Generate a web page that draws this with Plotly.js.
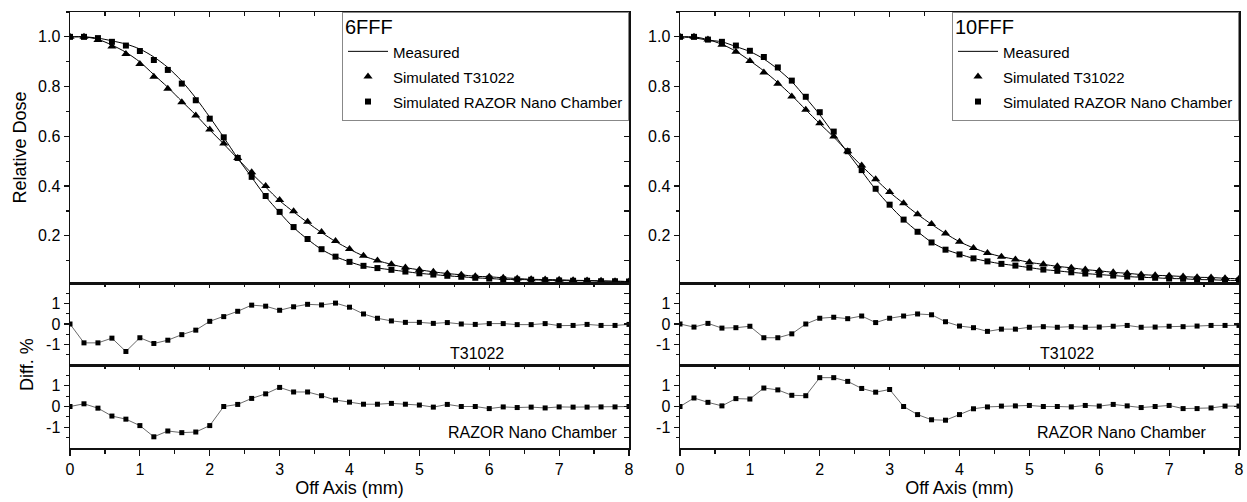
<!DOCTYPE html>
<html>
<head>
<meta charset="utf-8">
<script src="https://cdn.plot.ly/plotly-3.0.1.min.js"></script>
<style>html,body{margin:0;padding:0;background:#fff;}#chart{width:1247px;height:502px;}</style>
</head>
<body>
<div id="chart"></div>
<script>
// ---------- DATA ----------
const offAxis = [0,0.2,0.4,0.6,0.8,1.0,1.2,1.4,1.6,1.8,2.0,2.2,2.4,2.6,2.8,3.0,3.2,3.4,3.6,3.8,4.0,4.2,4.4,4.6,4.8,5.0,5.2,5.4,5.6,5.8,6.0,6.2,6.4,6.6,6.8,7.0,7.2,7.4,7.6,7.8,8.0];

// 6FFF
const fff6MeasT31022 = [1.0,1.0,0.99,0.967,0.938,0.899,0.848,0.797,0.741,0.686,0.626,0.569,0.51,0.451,0.396,0.341,0.296,0.253,0.213,0.177,0.146,0.119,0.1,0.085,0.072,0.063,0.055,0.048,0.043,0.037,0.035,0.031,0.028,0.025,0.024,0.023,0.021,0.02,0.019,0.017,0.016];
const fff6MeasRazor  = [1.0,1.0,0.995,0.984,0.971,0.951,0.919,0.877,0.822,0.754,0.677,0.596,0.512,0.435,0.358,0.293,0.233,0.186,0.145,0.116,0.095,0.078,0.07,0.063,0.056,0.049,0.044,0.039,0.035,0.031,0.028,0.025,0.024,0.023,0.021,0.02,0.019,0.019,0.017,0.017,0.016];
const fff6SimT31022  = [1.0,1.0,0.987,0.961,0.931,0.891,0.84,0.791,0.737,0.684,0.627,0.571,0.513,0.455,0.4,0.344,0.299,0.256,0.215,0.179,0.147,0.12,0.101,0.085,0.072,0.063,0.055,0.048,0.043,0.037,0.035,0.031,0.028,0.025,0.024,0.023,0.021,0.02,0.019,0.017,0.016];
const fff6SimRazor   = [1.0,1.0,0.995,0.98,0.965,0.943,0.907,0.867,0.812,0.745,0.671,0.596,0.513,0.437,0.36,0.296,0.235,0.187,0.146,0.116,0.095,0.079,0.07,0.063,0.056,0.049,0.044,0.039,0.035,0.031,0.028,0.025,0.024,0.023,0.021,0.02,0.019,0.019,0.017,0.017,0.016];
const fff6DiffT31022 = [0,-0.92,-0.92,-0.69,-1.34,-0.67,-0.95,-0.79,-0.52,-0.3,0.13,0.36,0.62,0.92,0.87,0.67,0.84,0.96,0.93,1.02,0.82,0.49,0.28,0.15,0.08,0.08,0.03,0.07,0,-0.02,0.02,0.02,-0.03,-0.03,0.02,-0.08,-0.07,-0.02,-0.07,-0.07,-0.02];
const fff6DiffRazor  = [0,0.13,-0.08,-0.46,-0.61,-0.92,-1.46,-1.18,-1.26,-1.23,-0.92,0,0.1,0.39,0.61,0.92,0.7,0.7,0.52,0.31,0.21,0.11,0.11,0.15,0.11,0.07,-0.03,0.1,0,0,-0.1,-0.02,-0.05,-0.03,-0.07,-0.02,-0.03,-0.03,-0.02,-0.02,0];

// 10FFF
const fff10MeasT31022 = [1.0,1.0,0.989,0.97,0.942,0.904,0.863,0.816,0.764,0.707,0.651,0.597,0.538,0.481,0.427,0.375,0.33,0.286,0.246,0.209,0.176,0.151,0.131,0.116,0.105,0.093,0.085,0.077,0.071,0.064,0.059,0.053,0.049,0.044,0.041,0.039,0.036,0.033,0.032,0.029,0.027];
const fff10MeasRazor  = [1.0,0.996,0.987,0.98,0.961,0.941,0.911,0.87,0.82,0.755,0.687,0.61,0.534,0.46,0.386,0.322,0.265,0.217,0.174,0.145,0.126,0.109,0.097,0.087,0.08,0.072,0.064,0.059,0.053,0.048,0.044,0.04,0.036,0.033,0.031,0.028,0.027,0.024,0.023,0.021,0.02];
const fff10SimT31022  = [1.0,1.0,0.989,0.968,0.94,0.903,0.857,0.811,0.76,0.707,0.653,0.599,0.54,0.483,0.427,0.376,0.331,0.287,0.247,0.209,0.176,0.151,0.131,0.116,0.105,0.093,0.085,0.077,0.071,0.064,0.059,0.053,0.049,0.044,0.041,0.039,0.036,0.033,0.032,0.029,0.027];
const fff10SimRazor   = [1.0,1.0,0.989,0.98,0.965,0.944,0.919,0.877,0.824,0.759,0.697,0.619,0.54,0.464,0.389,0.325,0.265,0.216,0.173,0.144,0.125,0.109,0.097,0.087,0.08,0.072,0.064,0.059,0.053,0.048,0.044,0.04,0.036,0.033,0.031,0.028,0.027,0.024,0.023,0.021,0.02];
const fff10DiffT31022 = [0,-0.15,0.03,-0.2,-0.18,-0.11,-0.67,-0.67,-0.48,0,0.28,0.33,0.26,0.39,0.07,0.28,0.39,0.49,0.45,0.11,-0.1,-0.18,-0.36,-0.25,-0.25,-0.16,-0.13,-0.16,-0.13,-0.16,-0.15,-0.11,-0.07,-0.16,-0.15,-0.11,-0.13,-0.1,-0.07,-0.07,-0.07];
const fff10DiffRazor  = [0,0.41,0.2,0.03,0.38,0.36,0.89,0.8,0.54,0.52,1.39,1.39,1.21,0.87,0.69,0.82,0,-0.39,-0.64,-0.66,-0.39,-0.11,-0.02,0.02,0.03,0.05,0,0,-0.02,0.05,0.02,0.1,0.03,-0.05,0,0.05,-0.1,-0.1,-0.07,0.02,0.02];

const xTicks = [0,1,2,3,4,5,6,7,8];
const diffTickVals = [-1,0,1];
const diffTickText = ['-1','0','1'];
const energyNames = ['6FFF','10FFF'];
const legendNames = ['Measured','Simulated T31022','Simulated RAZOR Nano Chamber'];
const diffLabels = ['T31022','RAZOR Nano Chamber'];

// ---------- LAYOUT GEOMETRY ----------
const W = 1247, H = 502;
const M = {l:70, r:8, t:12, b:54};
const PW = W - M.l - M.r, PH = H - M.t - M.b;
const px2x = p => (p - M.l) / PW;
const py2y = p => (H - M.b - p) / PH;
const xDomains = [[px2x(70), px2x(629)], [px2x(680), px2x(1239)]];
const yDomains = [[py2y(283), 1], [py2y(365), py2y(283)], [0, py2y(365)]];

const FONT = 'Liberation Sans, Arial, sans-serif';
const AX = '#111';
const layout = {
  width: W, height: H,
  margin: M,
  paper_bgcolor: '#fff', plot_bgcolor: '#fff',
  font: {family: FONT, color: '#000', size: 16},
  showlegend: true,
  annotations: [],
};

const traces = [];
const yRanges = [[0.01, 1.1], [-2, 2], [-2, 2]];
const legendLabel = t => '<span style="font-size:15px">' + t + '</span>';
const legendTitle = t => '<span style="font-size:20px">' + t + '</span>';

for (let c = 0; c < 2; c++) {
  for (let r = 0; r < 3; r++) {
    const p = c * 3 + r + 1;
    const xa = 'xaxis' + p, ya = 'yaxis' + p;
    const xo = 'xaxis' + (p + 6), yo = 'yaxis' + (p + 6);
    const isBottom = r === 2;
    layout[xa] = {
      domain: xDomains[c], anchor: 'y' + p, range: [0, 8],
      showline: true, linecolor: AX, linewidth: 1.5, showgrid: false, zeroline: false,
      ticks: isBottom ? 'outside' : '', ticklen: 6, tickwidth: 1.2, tickcolor: AX,
      tickvals: xTicks, showticklabels: isBottom,
      tickfont: {size: 16, family: FONT},
      minor: isBottom ? {dtick: 0.5, ticklen: 4, tickwidth: 1.2, tickcolor: AX, ticks: 'outside'} : undefined,
      title: isBottom ? {text: 'Off Axis (mm)', font: {size: 18, family: FONT}, standoff: 4} : undefined,
    };
    layout[xo] = {
      overlaying: 'x' + p, anchor: 'y' + p, side: 'top', range: [0, 8],
      showline: true, linecolor: AX, linewidth: 1.5, showgrid: false, zeroline: false,
      ticks: 'inside', ticklen: 5, tickwidth: 1.2, tickcolor: AX, tickvals: xTicks,
      showticklabels: false,
      minor: {dtick: 0.5, ticklen: 4, tickwidth: 1.2, tickcolor: AX, ticks: 'inside'},
    };
    const yBase = {
      domain: yDomains[r], range: yRanges[r],
      showline: true, linecolor: AX, linewidth: 1.5, showgrid: false, zeroline: false,
      tickcolor: AX, tickwidth: 1.2,
    };
    if (r === 0) {
      layout[ya] = Object.assign({}, yBase, {
        anchor: 'x' + p, ticks: 'outside', ticklen: 5, dtick: 0.2, tick0: 0, tickformat: '.1f',
        tickfont: {size: 16, family: FONT},
        minor: {dtick: 0.1, ticklen: 3, tickwidth: 1.2, tickcolor: AX, ticks: 'outside'},
        title: c === 0 ? {text: 'Relative Dose', font: {size: 18, family: FONT}, standoff: 6} : undefined,
      });
      layout[yo] = Object.assign({}, yBase, {
        overlaying: 'y' + p, anchor: 'x' + p, side: 'right', ticks: 'inside', ticklen: 5,
        dtick: 0.1, tick0: 0, showticklabels: false,
      });
    } else {
      layout[ya] = Object.assign({}, yBase, {
        anchor: 'x' + p, ticks: 'outside', ticklen: 5, tickvals: diffTickVals, ticktext: diffTickText,
        tickfont: {size: 16, family: FONT},
        minor: {tickvals: [-1.5, -0.5, 0.5, 1.5], ticklen: 3, tickwidth: 1.2, tickcolor: AX, ticks: 'outside'},
      });
      layout[yo] = Object.assign({}, yBase, {
        overlaying: 'y' + p, anchor: 'x' + p, side: 'right', ticks: 'inside', ticklen: 5,
        tickvals: [-1.5, -1, -0.5, 0, 0.5, 1, 1.5], showticklabels: false,
      });
    }
    // empty traces so the mirrored (top / right) frame axes get drawn
    traces.push({type: 'scatter', mode: 'markers', x: [null], y: [null], xaxis: 'x' + (p + 6), yaxis: 'y' + p,
      showlegend: false, hoverinfo: 'skip'});
    traces.push({type: 'scatter', mode: 'markers', x: [null], y: [null], xaxis: 'x' + p, yaxis: 'y' + (p + 6),
      showlegend: false, hoverinfo: 'skip'});
  }
}

const sets = [
  {meas: [fff6MeasT31022, fff6MeasRazor], sim: [fff6SimT31022, fff6SimRazor], diff: [fff6DiffT31022, fff6DiffRazor]},
  {meas: [fff10MeasT31022, fff10MeasRazor], sim: [fff10SimT31022, fff10SimRazor], diff: [fff10DiffT31022, fff10DiffRazor]},
];

for (let c = 0; c < 2; c++) {
  const s = sets[c];
  const p = c * 3 + 1;
  const lg = c === 0 ? 'legend' : 'legend2';
  const ax = {xaxis: 'x' + p, yaxis: 'y' + p};
  traces.push(Object.assign({type: 'scatter', mode: 'lines', x: offAxis, y: s.meas[0], name: legendLabel(legendNames[0]),
    line: {color: '#000', width: 1, shape: 'spline', smoothing: 0.8}, legend: lg, showlegend: true}, ax));
  traces.push(Object.assign({type: 'scatter', mode: 'lines', x: offAxis, y: s.meas[1], name: legendLabel(legendNames[0]),
    line: {color: '#000', width: 1, shape: 'spline', smoothing: 0.8}, legend: lg, showlegend: false}, ax));
  traces.push(Object.assign({type: 'scatter', mode: 'markers', x: offAxis, y: s.sim[0], name: legendLabel(legendNames[1]),
    marker: {symbol: 'triangle-up', size: 8, color: '#000'}, legend: lg}, ax));
  traces.push(Object.assign({type: 'scatter', mode: 'markers', x: offAxis, y: s.sim[1], name: legendLabel(legendNames[2]),
    marker: {symbol: 'square', size: 6, color: '#000'}, legend: lg}, ax));
  for (let k = 0; k < 2; k++) {
    const q = c * 3 + 2 + k;
    traces.push({type: 'scatter', mode: 'lines+markers', x: offAxis, y: s.diff[k], xaxis: 'x' + q, yaxis: 'y' + q,
      line: {color: '#444', width: 0.8}, marker: {symbol: 'square', size: 5, color: '#000'}, showlegend: false});
  }
  layout[lg] = {
    x: xDomains[c][1], xanchor: 'right', y: 1, yanchor: 'top',
    bordercolor: '#888', borderwidth: 1, bgcolor: '#fff',
    font: {size: 17, family: FONT, color: '#000'},
    title: {text: legendTitle(energyNames[c]), font: {size: 16, family: FONT}},
    itemwidth: 40, tracegroupgap: 0, traceorder: 'normal',
  };
}

// diff panel labels
const labelPos = [
  [[5.82, -1.45], [6.62, -1.23]],
  [[5.54, -1.45], [6.32, -1.23]],
];
for (let c = 0; c < 2; c++) {
  for (let k = 0; k < 2; k++) {
    const q = c * 3 + 2 + k;
    layout.annotations.push({xref: 'x' + q, yref: 'y' + q, x: labelPos[c][k][0], y: labelPos[c][k][1],
      text: diffLabels[k], showarrow: false, font: {size: 16, family: FONT}, xanchor: 'center', yanchor: 'middle'});
  }
}
layout.annotations.push({xref: 'paper', yref: 'paper', x: px2x(27), y: py2y(365), text: 'Diff. %', textangle: -90,
  showarrow: false, font: {size: 18, family: FONT}, xanchor: 'center', yanchor: 'middle'});

Plotly.newPlot('chart', traces, layout, {staticPlot: true, displayModeBar: false});
</script>
</body>
</html>
